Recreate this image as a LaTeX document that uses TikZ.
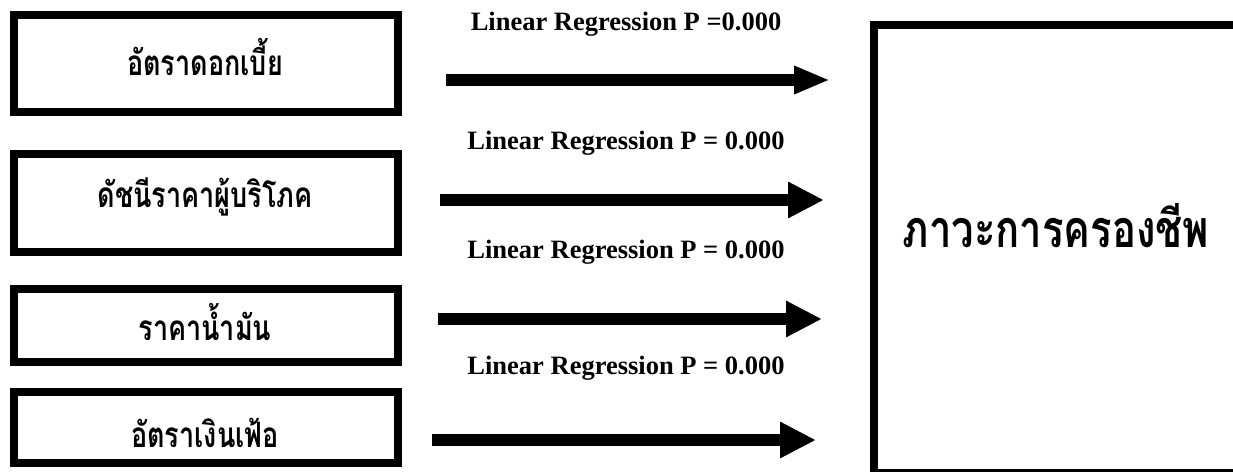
\documentclass[tikz,border=0pt]{standalone}
\usepackage{fontspec}
\usepackage{graphicx}
\setmainfont{Liberation Serif}
\newfontfamily\thaifont[Script=Thai]{Loma}
\usetikzlibrary{arrows.meta}
\newcommand{\thtall}[1]{\scalebox{1}[1.3]{#1}}
\tikzset{
  inbox/.style={draw=black, line width=8pt, inner sep=0pt},
  intext/.style={inner sep=0pt, font=\thaifont\bfseries\fontsize{27}{30}\selectfont},
  outbox/.style={draw=black, line width=8pt, inner sep=0pt},
  lbl/.style={font=\bfseries\fontsize{26.5}{30}\selectfont, inner sep=0pt},
  arr/.style={line width=12pt, -{Triangle[length=36pt,width=34pt]}},
}
\begin{document}
\begin{tikzpicture}[x=1pt,y=-1pt]
\clip (0,0) rectangle (1233,471);
\fill[white] (0,0) rectangle (1233,471);
% input boxes
\node[inbox, minimum width=384pt, minimum height=97pt] (b1) at (206,63.5) {};
\node[inbox, minimum width=384pt, minimum height=98pt] (b2) at (206,203) {};
\node[inbox, minimum width=384pt, minimum height=73pt] (b3) at (206,325.5) {};
\node[inbox, minimum width=384pt, minimum height=71pt] (b4) at (206,427.5) {};
\node[intext] (t1) at (205,57) {\thtall{อัตราดอกเบี้ย}};
\node[intext] (t2) at (205,197) {\thtall{ดัชนีราคาผู้บริโภค}};
\node[intext] (t3) at (205,322) {\thtall{ราคาน้ำมัน}};
\node[intext] (t4) at (205,433) {\thtall{อัตราเงินเฟ้อ}};
% output box
\node[outbox, minimum width=370pt, minimum height=448pt] (out) at (1059,249) {};
\node[font=\thaifont\bfseries\fontsize{40}{46}\selectfont, inner sep=0pt] (outtxt) at (1056,226) {\thtall{ภาวะการครองชีพ}};
% arrows
\coordinate (s1) at (446,80);  \coordinate (e1) at (830,80);
\coordinate (s2) at (440,200); \coordinate (e2) at (824,200);
\coordinate (s3) at (438,319); \coordinate (e3) at (822,319);
\coordinate (s4) at (432,440); \coordinate (e4) at (816,440);
\draw[line width=12pt, -{Triangle[length=36pt,width=26pt]}] (s1) -- (e1);
\draw[arr] (s2) -- (e2);
\draw[arr] (s3) -- (e3);
\draw[arr] (s4) -- (e4);
% labels
\node[lbl] (l1) at (626,24) {Linear Regression P =0.000};
\node[lbl] (l2) at (626,143) {Linear Regression P = 0.000};
\node[lbl] (l3) at (626,252) {Linear Regression P = 0.000};
\node[lbl] (l4) at (626,368) {Linear Regression P = 0.000};
\end{tikzpicture}
\end{document}
